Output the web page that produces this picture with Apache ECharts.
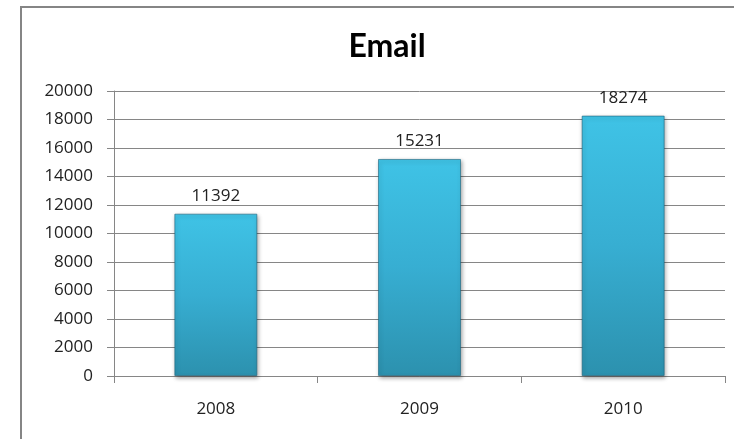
<!DOCTYPE html>
<html>
<head>
<meta charset="utf-8">
<script src="https://cdn.jsdelivr.net/npm/echarts@6/dist/echarts.min.js"></script>
<style>
html,body{margin:0;padding:0;background:#fff;}
#c{width:734px;height:439px;}
</style>
</head>
<body>
<div id="c"></div>
<script>
const chartTitle = "Email";
const categories = ["2008", "2009", "2010"];
const values = [11392, 15231, 18274];
const yMin = 0, yMax = 20000, yStep = 2000;

const chart = echarts.init(document.getElementById('c'), null, {renderer: 'canvas'});
const font = '"Open Sans", sans-serif';
chart.setOption({
  animation: false,
  backgroundColor: '#ffffff',
  graphic: [{
    type: 'polyline',
    shape: {points: [[21, 450], [21, 7], [740, 7]]},
    style: {stroke: '#858585', lineWidth: 2, fill: null},
    z: 10
  }],
  title: {
    text: chartTitle,
    left: 382, top: 26, textAlign: 'center',
    textStyle: {fontFamily: 'Lato, sans-serif', fontWeight: 'bold', fontSize: 32, color: '#000'}
  },
  grid: {left: 114, right: 9, top: 91, bottom: 63, containLabel: false},
  xAxis: {
    type: 'category',
    data: categories,
    boundaryGap: true,
    axisLine: {show: true, lineStyle: {color: '#868686', width: 1}},
    axisTick: {show: true, length: 7, lineStyle: {color: '#868686'}},
    axisLabel: {margin: 25, fontFamily: font, fontSize: 17, color: '#222'}
  },
  yAxis: {
    type: 'value',
    min: yMin, max: yMax, interval: yStep,
    axisLine: {show: true, lineStyle: {color: '#868686', width: 1}},
    axisTick: {show: true, length: 7, lineStyle: {color: '#868686'}},
    axisLabel: {margin: 21, fontFamily: font, fontSize: 17, color: '#222', formatter: v => String(v)},
    splitLine: {show: true, lineStyle: {color: '#868686', width: 1}}
  },
  series: [{
    type: 'bar',
    data: values,
    barWidth: 83,
    label: {
      show: true, position: 'top', distance: 9,
      fontFamily: font, fontSize: 17, color: '#222'
    },
    itemStyle: {
      color: new echarts.graphic.LinearGradient(0, 0, 0, 1, [
        {offset: 0, color: '#3fc3e6'},
        {offset: 0.5, color: '#37aed2'},
        {offset: 1, color: '#2c91ae'}
      ]),
      borderColor: 'rgba(30,100,125,0.6)',
      borderWidth: 1,
      shadowColor: 'rgba(0,0,0,0.35)',
      shadowBlur: 4,
      shadowOffsetY: 2,
      shadowOffsetX: 1
    }
  }]
});
</script>
</body>
</html>
